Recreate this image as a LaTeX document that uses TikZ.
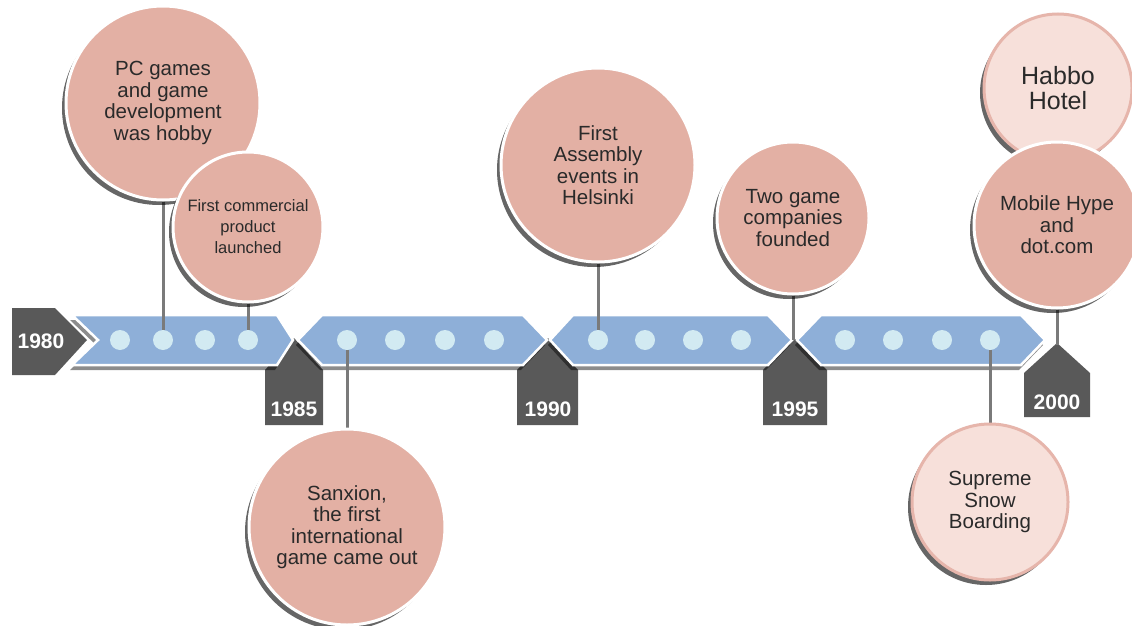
\documentclass[tikz,border=0pt]{standalone}
\usepackage{fontspec}
\setmainfont{Liberation Sans}
\usetikzlibrary{shadows}
\definecolor{salmon}{HTML}{E3B0A4}
\definecolor{lightpink}{HTML}{F7E0DA}
\definecolor{pinkedge}{HTML}{E6B5AB}
\definecolor{segblue}{HTML}{8EAFD8}
\definecolor{dotblue}{HTML}{D2EAF2}
\definecolor{tagdark}{HTML}{595959}
\definecolor{linegray}{HTML}{7A7A7A}
\definecolor{textdark}{HTML}{2A2A2A}
\pgfdeclarelayer{back}
\pgfdeclarelayer{mid}
\pgfsetlayers{back,mid,main}
\begin{document}
\begin{tikzpicture}[x=1pt,y=-1pt,
  bubble/.style={circle, fill=salmon, draw=white, line width=3pt, align=center,
    inner sep=0pt, text=textdark, font=\fontsize{20.5}{21.5}\selectfont,
    drop shadow={shadow xshift=-4pt, shadow yshift=-5pt, opacity=0.6, fill=black}},
  softbubble/.style={bubble, fill=lightpink, draw=pinkedge},
  segment/.style={fill=segblue, draw=white, line width=2.5pt, line join=miter,
    drop shadow={shadow xshift=-2pt, shadow yshift=-5pt, opacity=0.45, fill=black}},
  tag/.style={fill=tagdark},
  year/.style={text=white, font=\fontsize{21}{21}\selectfont\bfseries},
  dotnode/.style={circle, fill=dotblue, minimum size=20pt, inner sep=0pt},
  conn/.style={draw=linegray, line width=3pt}
]
\useasboundingbox (0,0) rectangle (1132,626);

\begin{pgfonlayer}{back}
\fill[white] (0,0) rectangle (1132,626);
% year tags
\fill[tag] (12,308) -- (55,308) -- (87,340) -- (55,375) -- (12,375) -- cycle;
\fill[tag] (294,338) -- (323,370) -- (323,425) -- (265,425) -- (265,370) -- cycle;
\fill[tag] (548,338) -- (578,370) -- (578,425) -- (517,425) -- (517,370) -- cycle;
\fill[tag] (794,338) -- (827,370) -- (827,425) -- (763,425) -- (763,370) -- cycle;
\fill[tag] (1057,343) -- (1090,373) -- (1090,417) -- (1024,417) -- (1024,373) -- cycle;
% arrow segments
\path[segment] (72,315) -- (98,340) -- (72,365) -- (277,365) -- (293,340) -- (277,315) -- cycle;
\path[segment] (298,340) -- (322,315) -- (523,315) -- (547,340) -- (523,365) -- (322,365) -- cycle;
\path[segment] (550,340) -- (573,315) -- (768,315) -- (792,340) -- (768,365) -- (573,365) -- cycle;
\path[segment] (797,340) -- (821,315) -- (1021,315) -- (1045,340) -- (1021,365) -- (821,365) -- cycle;
\end{pgfonlayer}

\node[year] (y80) at (41,341) {1980};
\node[year] (y85) at (294,409) {1985};
\node[year] (y90) at (548,409) {1990};
\node[year] (y95) at (795,409) {1995};
\node[year] (y00) at (1057,402) {2000};

\coordinate (t95) at (793,340);
\coordinate (t00) at (1057,345);

% dots
\foreach \x/\n in {120/d11,163/d12,205/d13,248/d14,
                   347/d21,395/d22,445/d23,494/d24,
                   598/d31,645/d32,693/d33,741/d34,
                   845/d41,893/d42,942/d43,990/d44}
  \node[dotnode] (\n) at (\x,340) {};

% bubbles
\node[bubble, minimum size=194pt] (c1) at (163,103)
  {PC games\\and game\\development\\was hobby};
\node[bubble, minimum size=150pt, font=\fontsize{16.5}{21}\selectfont] (c2) at (248,227)
  {First commercial\\product\\launched};
\node[bubble, minimum size=196pt] (c3) at (347,527)
  {Sanxion,\\the first\\international\\game came out};
\node[bubble, minimum size=194pt] (c4) at (598,165)
  {First\\Assembly\\events in\\Helsinki};
\node[bubble, minimum size=152pt] (c5) at (793,218)
  {Two game\\companies\\founded};
\node[softbubble, minimum size=148pt, font=\fontsize{25}{25}\selectfont] (c6) at (1058,88)
  {Habbo\\Hotel};
\node[bubble, minimum size=166pt] (c7) at (1057,225)
  {Mobile Hype\\and\\dot.com};
\node[softbubble, minimum size=156pt] (c8) at (990,502)
  {Supreme\\Snow\\Boarding};

% connectors
\begin{pgfonlayer}{mid}
\draw[conn] (c1) -- (d12);
\draw[conn] (c2) -- (d14);
\draw[conn] (d21) -- (c3);
\draw[conn] (c4) -- (d31);
\draw[conn] (c5) -- (t95);
\draw[conn] (c7) -- (t00);
\draw[conn] (d44) -- (c8);
\end{pgfonlayer}
\end{tikzpicture}
\end{document}
